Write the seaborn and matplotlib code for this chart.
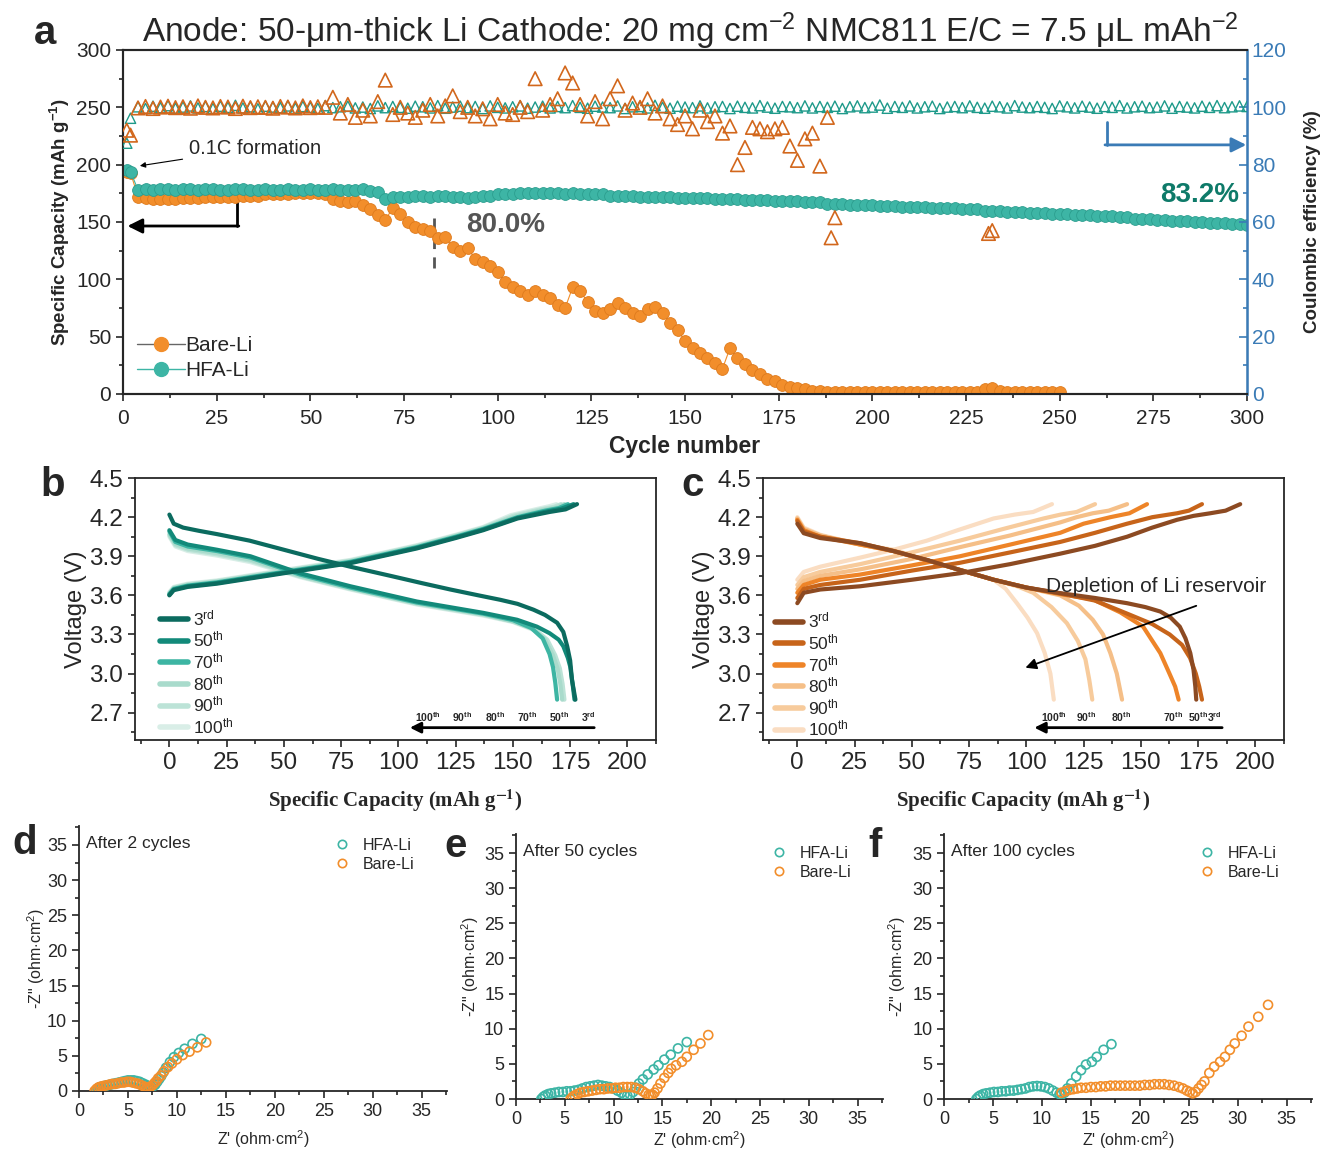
import numpy as np
import pandas as pd
import seaborn as sns
import matplotlib.pyplot as plt
from matplotlib.lines import Line2D
from matplotlib.ticker import MultipleLocator

sns.set_style("ticks")
plt.rcParams['font.family'] = ['Liberation Sans', 'DejaVu Sans']
plt.rcParams['mathtext.fontset'] = 'custom'
plt.rcParams['mathtext.rm'] = 'Liberation Sans'
plt.rcParams['mathtext.it'] = 'Liberation Sans:italic'
plt.rcParams['mathtext.bf'] = 'Liberation Sans:bold'

# ---------------- panel a : cycling data ----------------
cyc_hfa = [1, 2] + list(range(4, 301, 2))
cyc_bare = [1, 2] + list(range(4, 251, 2))
cyc_bare_ce = [1, 2] + list(range(4, 191, 2))
cyc_bare_ce_extra = [189, 231, 232]

cap_bare = [194, 193,
            172, 171, 170, 170, 170, 170, 171, 171, 171, 172,
            172, 172, 172, 172, 173, 173, 173, 174, 174, 174,
            174, 175, 175, 175, 175, 174, 170, 168, 167, 168,
            165, 161, 156, 152, 162, 157, 150, 146, 144, 142,
            136, 137, 128, 125, 127, 118, 115, 112, 106, 98,
            93, 90, 86, 90, 86, 84, 78, 75, 93, 90,
            80, 72, 71, 74, 79, 75, 71, 68, 74, 76,
            71, 62, 56, 46, 40, 36, 31, 27, 22, 40,
            31, 26, 21, 17, 13, 11, 8, 6, 5, 4,
            3, 2.5, 2, 2, 2, 2, 2, 2, 2, 2,
            2, 2, 2, 2, 2, 2, 2, 2, 2, 2,
            2, 2, 2, 4, 5, 3, 2, 2, 2, 2,
            2, 2, 2, 2]

cap_hfa = [195, 194,
           178, 179, 178, 179, 179, 178, 179, 179, 178, 179, 179, 178, 178, 179, 179, 178,
           178, 179, 178, 178, 179, 178, 178, 179, 178, 178, 179, 178, 178, 178, 179, 177,
           176, 170, 172, 172, 172, 173, 173, 172, 173, 173, 172, 172, 171, 172, 173, 173, 174,
           174, 174, 175, 175, 175, 175, 175, 175, 174, 175, 174, 174, 174, 174, 173,
           173, 173, 173, 172, 172, 172, 172, 172, 171, 171, 171, 171, 171, 170, 170,
           170, 170, 169, 169, 169, 169, 168, 168, 168, 168, 167, 167, 167, 166, 166, 166, 165, 165, 165, 165,
           164, 164, 164, 163, 163, 163, 163, 162, 162, 162, 162, 161, 161, 161, 160, 160, 160, 159, 159, 159,
           158, 158, 158, 157, 157,
           157, 156, 156, 156, 155, 155, 155, 154, 154, 153, 153, 153, 152, 152, 151, 151, 151, 150, 150, 149,
           149, 149, 148, 148, 147]

ce_hfa = [87.5, 96.2,
          100.2, 99.6, 100.4, 99.9, 100.6, 99.7, 100.1, 100.5, 99.8, 100.3,
          99.6, 100.4, 100.0, 100.7, 99.8, 100.2, 99.5, 100.4, 100.1, 99.9,
          100.5, 99.7, 100.3, 100.0, 99.6, 100.6, 99.9, 100.2, 100.4, 99.8,
          100.1, 99.6, 100.5, 99.9, 100.3, 100.0, 99.7, 100.4, 100.2, 99.8,
          100.6, 99.7, 100.1, 100.4, 99.9, 100.3, 99.6, 100.5, 100.0, 99.8,
          100.2, 100.5, 99.7, 100.1, 100.4, 99.8, 100.3, 99.9, 100.6, 100.0,
          99.7, 100.4, 100.1, 99.9, 100.5, 99.6, 100.2, 100.3, 99.8, 100.7,
          100.0, 99.7, 100.4, 100.1, 99.9, 100.5, 99.8, 100.2, 100.3, 99.6,
          100.4, 100.0, 99.8, 100.6, 100.1, 99.7, 100.3, 100.2, 99.9, 100.5,
          99.8, 100.3, 100.0, 100.4, 99.6, 100.2, 100.5, 99.9, 100.1, 100.8,
          99.7, 100.3, 100.0, 100.5, 99.8, 100.2, 100.4, 99.6, 100.1, 100.3,
          99.9, 100.5, 100.0, 99.7, 100.4, 100.2, 99.8, 100.6, 100.1, 99.9,
          100.3, 100.0, 99.6, 100.5, 100.2, 99.8, 100.4, 100.1, 99.7, 100.3,
          100.0, 100.6, 99.8, 100.2, 100.4, 99.9, 100.1, 100.5, 99.7, 100.3,
          100.1, 99.8, 100.4, 100.0, 100.6, 99.9, 100.2, 100.5, 100.3]

ce_bare = [92.0, 90.3,
           99.8, 100.3, 99.6, 100.1, 100.4, 99.9, 100.2, 99.7, 100.5, 100.0,
           99.8, 100.3, 100.1, 99.6, 100.4, 99.9, 100.2, 100.0, 99.7, 100.3,
           100.1, 99.8, 100.5, 99.9, 100.2, 100.0,
           103.5, 98.0, 101.0, 96.5, 99.0, 97.0, 102.0, 109.5, 97.5, 100.0,
           98.0, 96.5, 99.0, 101.0, 97.0, 100.5, 104.0, 98.5, 100.0, 97.0,
           99.5, 96.0, 101.0, 98.0, 97.5, 100.0, 98.5, 110.0, 99.0, 101.0,
           103.0, 112.0, 108.5, 101.0, 97.0, 102.0, 96.0, 103.0, 107.5, 99.0,
           101.5, 100.0, 103.0, 98.0, 100.5, 96.0, 94.0, 97.0, 92.5, 99.0,
           95.0, 97.0, 91.0, 93.5, 80.0, 86.0, 93.0, 92.5, 91.5, 92.5,
           93.0, 86.5, 81.5, 89.0, 91.0, 79.5, 96.5, 61.5]
ce_bare_extra = [54.5, 56.0, 57.0]

# ---------------- panel b : HFA-Li voltage profiles ----------------
cycle_labels = ['3$^{\\mathrm{rd}}$', '50$^{\\mathrm{th}}$', '70$^{\\mathrm{th}}$',
                '80$^{\\mathrm{th}}$', '90$^{\\mathrm{th}}$', '100$^{\\mathrm{th}}$']
b_colors = ['#0B6B5F', '#128A7A', '#3DB5A3', '#A9DBCC', '#BCE3D7', '#D9EEE7']
c_colors = ['#8C4A22', '#C7641A', '#EE8428', '#F5BF88', '#F7CB9C', '#FADDC2']

b_dis_cap = [
    [0, 1.9, 6, 13, 20.8, 35, 50, 65, 79, 96.5, 110, 122.7, 135, 144.5, 152, 159, 164, 169.3, 172, 173.7, 175, 175.8, 177.3],
    [0, 2.6, 8, 20.8, 35.4, 57, 79, 108, 137, 151.8, 160.5, 166, 170, 172, 174, 175, 176, 176.9],
    [0, 2.6, 8, 20.8, 35.4, 57, 79, 108, 137, 150, 158, 163, 166, 167.5, 168.5, 169.3],
    [0, 2.6, 8, 20.8, 35.4, 57, 79, 108, 137, 150, 159, 164, 167.5, 169.5, 170.7, 171.5],
    [0, 2.6, 8, 20.8, 35.4, 57, 79, 108, 137, 150, 159.5, 165, 168.5, 170.5, 171.7, 172.5],
    [0, 2.6, 8, 20.8, 35.4, 57, 79, 108, 137, 150, 159, 164.5, 168, 170, 171.2, 172]]
b_dis_v = [
    [4.22, 4.15, 4.12, 4.095, 4.07, 4.02, 3.95, 3.88, 3.82, 3.75, 3.695, 3.645, 3.60, 3.566, 3.535, 3.49, 3.45, 3.39, 3.32, 3.21, 3.10, 2.95, 2.80],
    [4.10, 4.025, 3.99, 3.95, 3.90, 3.77, 3.67, 3.553, 3.466, 3.413, 3.36, 3.31, 3.26, 3.21, 3.12, 3.055, 2.93, 2.80],
    [4.09, 4.01, 3.975, 3.94, 3.89, 3.76, 3.66, 3.545, 3.46, 3.41, 3.35, 3.27, 3.15, 3.05, 2.93, 2.80],
    [4.07, 3.995, 3.96, 3.925, 3.875, 3.75, 3.655, 3.54, 3.455, 3.40, 3.34, 3.26, 3.14, 3.04, 2.92, 2.80],
    [4.06, 3.985, 3.95, 3.915, 3.865, 3.745, 3.65, 3.535, 3.45, 3.40, 3.34, 3.26, 3.14, 3.04, 2.92, 2.80],
    [4.05, 3.975, 3.94, 3.905, 3.855, 3.74, 3.645, 3.53, 3.445, 3.395, 3.335, 3.255, 3.135, 3.035, 2.915, 2.80]]
b_ch_cap = [
    [0, 1.9, 8, 20.8, 50, 79, 108, 125, 137, 152, 166, 173, 178],
    [0, 1.9, 8, 20.8, 50, 79, 108, 125, 137, 152, 165, 171, 176.5],
    [0, 1.9, 8, 20.8, 50, 79, 108, 125, 137, 152, 164, 170, 174],
    [0, 1.9, 8, 20.8, 50, 79, 108, 125, 137, 151, 163, 169, 172.5],
    [0, 1.9, 8, 20.8, 50, 79, 108, 125, 137, 150, 162, 168, 171],
    [0, 1.9, 8, 20.8, 50, 79, 108, 125, 137, 149, 161, 166, 169]]
b_ch_v = [
    [3.60, 3.64, 3.665, 3.69, 3.77, 3.847, 3.96, 4.04, 4.10, 4.19, 4.24, 4.26, 4.30],
    [3.605, 3.645, 3.67, 3.695, 3.775, 3.852, 3.965, 4.045, 4.105, 4.195, 4.245, 4.265, 4.30],
    [3.61, 3.65, 3.675, 3.70, 3.78, 3.857, 3.97, 4.05, 4.11, 4.20, 4.25, 4.27, 4.30],
    [3.615, 3.655, 3.68, 3.705, 3.785, 3.862, 3.975, 4.055, 4.115, 4.205, 4.255, 4.275, 4.30],
    [3.62, 3.66, 3.685, 3.71, 3.79, 3.867, 3.98, 4.06, 4.12, 4.21, 4.26, 4.28, 4.30],
    [3.625, 3.665, 3.69, 3.715, 3.795, 3.872, 3.985, 4.065, 4.125, 4.215, 4.265, 4.285, 4.30]]

# ---------------- panel c : Bare-Li voltage profiles ----------------
c_dis_cap = [
    [0, 2.8, 10, 27.5, 42, 56.6, 70, 85.7, 100, 114.8, 130, 144, 152, 158.5, 163, 167, 169.5, 171.6, 173, 173.8, 174.2],
    [0, 2.8, 10, 27.5, 42, 56.6, 70, 85.7, 100, 114.8, 130, 144, 155, 162.6, 168, 171.5, 174, 175.5, 176.7],
    [0, 2.8, 10, 27.5, 42, 56.6, 70, 85.7, 100, 114.8, 129, 141, 151, 158.5, 162.5, 165, 166.5],
    [0, 2.8, 10, 27.5, 42, 56.6, 70, 85.7, 100, 114.8, 123, 129, 133.5, 136.7, 139.5, 141.8],
    [0, 2.8, 10, 27.5, 42, 56.6, 70, 85.7, 96, 103, 111, 117.7, 122.5, 125.8, 127.5, 128.8],
    [0, 2.8, 10, 27.5, 42, 56.6, 70, 80, 85.7, 91, 95.9, 100.5, 104.7, 108, 110.5, 112]]
c_dis_v = [
    [4.15, 4.077, 4.04, 4.0, 3.94, 3.872, 3.80, 3.72, 3.66, 3.617, 3.58, 3.54, 3.51, 3.476, 3.43, 3.36, 3.27, 3.157, 3.03, 2.90, 2.80],
    [4.17, 4.09, 4.05, 4.0, 3.94, 3.87, 3.80, 3.72, 3.66, 3.615, 3.56, 3.46, 3.38, 3.30, 3.22, 3.12, 3.0, 2.90, 2.80],
    [4.18, 4.10, 4.05, 3.99, 3.94, 3.87, 3.80, 3.72, 3.66, 3.61, 3.57, 3.47, 3.36, 3.157, 3.0, 2.90, 2.80],
    [4.19, 4.11, 4.06, 3.99, 3.94, 3.87, 3.80, 3.72, 3.66, 3.60, 3.52, 3.413, 3.30, 3.157, 3.0, 2.80],
    [4.19, 4.11, 4.06, 3.99, 3.945, 3.87, 3.80, 3.72, 3.67, 3.62, 3.51, 3.387, 3.25, 3.11, 2.95, 2.80],
    [4.20, 4.12, 4.065, 3.99, 3.95, 3.87, 3.80, 3.75, 3.72, 3.65, 3.54, 3.43, 3.31, 3.16, 3.0, 2.80]]
c_ch_cap = [
    [0, 2.8, 10, 27.5, 50, 71, 93, 114.8, 130, 144, 155, 165.8, 173, 180.3, 187, 193.4],
    [0, 2.8, 10, 27.5, 50, 71, 93, 114.8, 130, 144, 155, 165.8, 171, 176.7],
    [0, 2.8, 10, 27.5, 50, 71, 93, 114.8, 125, 136.7, 145, 152.7],
    [0, 2.8, 10, 27.5, 50, 71, 93, 114.8, 122, 129, 136, 144],
    [0, 2.8, 10, 27.5, 50, 71, 90, 107.5, 115, 122, 130],
    [0, 2.8, 10, 27.5, 42, 56.6, 70, 85.7, 95, 103, 111.2]]
c_ch_v = [
    [3.54, 3.62, 3.645, 3.67, 3.72, 3.77, 3.84, 3.92, 3.98, 4.05, 4.12, 4.18, 4.21, 4.23, 4.25, 4.30],
    [3.58, 3.65, 3.68, 3.72, 3.79, 3.85, 3.93, 4.01, 4.08, 4.15, 4.20, 4.23, 4.25, 4.30],
    [3.62, 3.68, 3.72, 3.76, 3.83, 3.90, 3.99, 4.08, 4.15, 4.20, 4.23, 4.30],
    [3.65, 3.71, 3.75, 3.80, 3.88, 3.97, 4.06, 4.16, 4.20, 4.23, 4.25, 4.30],
    [3.68, 3.74, 3.78, 3.84, 3.93, 4.02, 4.11, 4.19, 4.22, 4.24, 4.30],
    [3.72, 3.78, 3.82, 3.89, 3.95, 4.02, 4.10, 4.19, 4.22, 4.24, 4.30]]

# ---------------- panels d-f : EIS ----------------
d_hfa_re = [1.7, 1.9, 2.1, 2.3, 2.6, 2.9, 3.2, 3.5, 3.8, 4.1, 4.4, 4.7, 5.0, 5.3, 5.6, 5.9, 6.2, 6.5, 6.8, 7.0,
            7.2, 7.4, 7.6, 7.8, 8.0, 8.2, 8.4, 8.6, 8.9, 9.3, 9.7, 10.2, 10.8, 11.6, 12.5]
d_hfa_im = [0.0, 0.3, 0.5, 0.6, 0.7, 0.8, 0.9, 1.0, 1.1, 1.2, 1.3, 1.4, 1.5, 1.5, 1.5, 1.4, 1.3, 1.1, 0.9, 0.7,
            0.6, 0.6, 0.7, 0.9, 1.3, 1.7, 2.1, 2.6, 3.3, 4.1, 4.8, 5.4, 6.0, 6.7, 7.4]
d_bare_re = [1.6, 1.8, 2.0, 2.2, 2.5, 2.8, 3.1, 3.4, 3.7, 4.0, 4.3, 4.6, 4.9, 5.2, 5.5, 5.8, 6.1, 6.4, 6.7, 6.9,
             7.1, 7.3, 7.5, 7.7, 7.9, 8.1, 8.4, 8.7, 9.1, 9.5, 10.0, 10.6, 11.3, 12.1, 13.0]
d_bare_im = [0.0, 0.3, 0.5, 0.6, 0.7, 0.8, 0.9, 1.0, 1.0, 1.1, 1.2, 1.2, 1.3, 1.3, 1.2, 1.1, 1.0, 0.8, 0.6, 0.5,
             0.5, 0.6, 0.8, 1.1, 1.4, 1.8, 2.2, 2.8, 3.4, 3.9, 4.5, 5.1, 5.6, 6.2, 6.9]
e_hfa_re = [2.6, 2.8, 3.0, 3.3, 3.6, 4.0, 4.4, 4.8, 5.2, 5.6, 6.0, 6.4, 6.8, 7.2, 7.6, 8.0, 8.4, 8.8, 9.2, 9.6,
            10.0, 10.4, 10.8, 11.1, 11.4, 11.7, 12.0, 12.3, 12.6, 13.0, 13.5, 14.1, 14.6, 15.2, 15.85, 16.6, 17.5]
e_hfa_im = [0.0, 0.3, 0.5, 0.7, 0.8, 0.9, 1.0, 1.0, 1.1, 1.1, 1.2, 1.3, 1.5, 1.7, 1.8, 1.9, 2.0, 1.9, 1.8, 1.7,
            1.5, 1.2, 0.9, 0.6, 0.5, 0.6, 1.0, 1.6, 2.2, 2.8, 3.5, 4.2, 4.8, 5.6, 6.3, 7.2, 8.1]
e_bare_re = [5.6, 5.8, 6.0, 6.3, 6.6, 7.0, 7.4, 7.8, 8.2, 8.6, 9.0, 9.4, 9.8, 10.2, 10.6, 11.0, 11.4, 11.8, 12.2, 12.6,
             13.0, 13.3, 13.6, 13.8, 14.0, 14.2, 14.5, 14.8, 15.2, 15.6, 15.9, 16.4, 17.0, 17.5, 18.2, 18.9, 19.7]
e_bare_im = [0.0, 0.3, 0.5, 0.7, 0.9, 1.0, 1.1, 1.2, 1.3, 1.4, 1.4, 1.5, 1.5, 1.6, 1.6, 1.7, 1.7, 1.7, 1.6, 1.4,
             1.1, 0.8, 0.6, 0.5, 0.6, 0.9, 1.5, 2.2, 3.0, 3.7, 4.3, 4.8, 5.3, 6.0, 7.0, 7.9, 9.1]
f_hfa_re = [3.3, 3.5, 3.7, 4.0, 4.3, 4.7, 5.1, 5.5, 5.9, 6.3, 6.7, 7.1, 7.5, 7.9, 8.3, 8.7, 9.1, 9.5, 9.9, 10.3,
            10.7, 11.1, 11.5, 11.8, 12.0, 12.3, 12.6, 13.0, 13.5, 14.0, 14.5, 15.1, 15.6, 16.3, 17.1]
f_hfa_im = [0.0, 0.3, 0.5, 0.7, 0.8, 0.9, 1.0, 1.0, 1.1, 1.1, 1.2, 1.2, 1.3, 1.4, 1.5, 1.7, 1.8, 1.85, 1.8, 1.7,
            1.5, 1.2, 0.9, 0.7, 0.6, 0.9, 1.5, 2.2, 3.2, 4.1, 4.9, 5.3, 6.0, 7.0, 7.8]
f_bare_re = [12.0, 12.4, 12.8, 13.2, 13.6, 14.0, 14.5, 15.0, 15.5, 16.0, 16.5, 17.0, 17.5, 18.0, 18.5, 19.0, 19.5,
             20.0, 20.5, 21.0, 21.5, 22.0, 22.5, 23.0, 23.5, 24.0, 24.4, 24.8, 25.1, 25.4, 25.7, 26.0, 26.3, 26.6,
             27.1, 27.6, 28.2, 28.7, 29.2, 29.7, 30.4, 31.1, 32.1, 33.1]
f_bare_im = [0.9, 1.1, 1.3, 1.4, 1.5, 1.6, 1.6, 1.7, 1.7, 1.8, 1.8, 1.9, 1.9, 1.9, 1.9, 1.9, 1.9,
             1.9, 2.0, 2.0, 2.1, 2.1, 2.1, 2.0, 1.9, 1.7, 1.5, 1.2, 1.0, 0.8, 1.0, 1.5, 2.0, 2.5,
             3.7, 4.6, 5.3, 6.0, 7.0, 7.9, 9.0, 10.3, 11.7, 13.4]

ORANGE = '#F28E2B'
TEAL = '#3DB5A5'
BLUE = '#3A7BB6'

fig = plt.figure(figsize=(13.2, 11.52), dpi=100)

# ======================= panel a =======================
ax = fig.add_axes([0.0932, 0.6580, 0.8515, 0.2986])
ax2 = ax.twinx()

sns.lineplot(x=cyc_bare, y=cap_bare, ax=ax, color=ORANGE, lw=0.8, marker='o', ms=8.5,
             mec='#DE7A1C', mew=0.6, estimator=None, sort=False, zorder=3)
sns.lineplot(x=cyc_hfa, y=cap_hfa, ax=ax, color=TEAL, lw=0.8, marker='o', ms=8.5,
             mec='#2C9E8F', mew=0.6, estimator=None, sort=False, zorder=4)

sns.scatterplot(x=cyc_hfa, y=ce_hfa, ax=ax2, marker='^', s=55, facecolor='none',
                edgecolor='#1E9A8A', linewidth=1.0, zorder=3)
sns.scatterplot(x=cyc_bare_ce, y=ce_bare, ax=ax2, marker='^', s=95, facecolor='none',
                edgecolor='#D2671C', linewidth=1.2, zorder=4)
sns.scatterplot(x=cyc_bare_ce_extra, y=ce_bare_extra, ax=ax2, marker='^', s=95, facecolor='none',
                edgecolor='#D2671C', linewidth=1.2, zorder=4)

ax.set_xlim(0, 300)
ax.set_ylim(0, 300)
ax2.set_ylim(0, 120)
ax.xaxis.set_major_locator(MultipleLocator(25))
ax.xaxis.set_minor_locator(MultipleLocator(12.5))
ax.yaxis.set_major_locator(MultipleLocator(50))
ax.yaxis.set_minor_locator(MultipleLocator(25))
ax2.yaxis.set_major_locator(MultipleLocator(20))
ax2.yaxis.set_minor_locator(MultipleLocator(10))
ax.tick_params(which='both', direction='out', labelsize=15, width=1.2)
ax.tick_params(which='major', length=5)
ax.tick_params(which='minor', length=3)
ax.tick_params(axis='x', pad=6)
ax2.tick_params(which='both', direction='in', colors=BLUE, labelsize=15, width=1.2)
ax2.tick_params(which='major', length=6)
ax2.tick_params(which='minor', length=3)
for s in ['left', 'top', 'bottom']:
    ax.spines[s].set_linewidth(1.5)
    ax2.spines[s].set_linewidth(1.5)
ax2.spines['right'].set_color(BLUE)
ax2.spines['right'].set_linewidth(1.8)
ax.set_xlabel('Cycle number', fontsize=16.5, fontweight='bold', labelpad=5)
ax.set_ylabel(r'Specific Capacity (mAh g$^{\mathbf{-1}}$)', fontsize=13.5, fontweight='bold', labelpad=3)
ax2.set_ylabel('Coulombic efficiency (%)', fontsize=13.5, fontweight='bold', labelpad=12)

# arrows and notes
ax.plot([30.5, 30.5], [172, 146.5], color='k', lw=2)
ax.annotate('', xy=(1.2, 146.5), xytext=(30.9, 146.5),
            arrowprops=dict(arrowstyle='-|>', color='k', lw=2, mutation_scale=22, shrinkA=0, shrinkB=0))
ax2.plot([262.5, 262.5], [95, 86.9], color=BLUE, lw=2)
ax2.annotate('', xy=(299.8, 86.9), xytext=(262.1, 86.9),
             arrowprops=dict(arrowstyle='-|>', color=BLUE, lw=2, mutation_scale=22, shrinkA=0, shrinkB=0))
ax.annotate('0.1C formation', xy=(4.5, 199), xytext=(17.5, 214.5), fontsize=14.5, va='center',
            arrowprops=dict(arrowstyle='-|>', color='k', lw=0.8, mutation_scale=8, shrinkA=2, shrinkB=0))
ax.plot([83, 83], [110, 155], color='#555555', lw=2, ls=(0, (4, 3)))
ax.text(102, 147, '80.0%', fontsize=20, fontweight='bold', color='#555555', ha='center', va='center')
ax.text(298, 173.5, '83.2%', fontsize=20, fontweight='bold', color='#0E7A69', ha='right', va='center')

leg_a = [Line2D([], [], color='#666666', lw=1, marker='o', ms=10, mfc=ORANGE, mec=ORANGE),
         Line2D([], [], color=TEAL, lw=1, marker='o', ms=10, mfc=TEAL, mec=TEAL)]
ax.legend(leg_a, ['Bare-Li', 'HFA-Li'], loc='lower left', bbox_to_anchor=(-0.004, -0.015), frameon=False,
          fontsize=15, handlelength=2.3, handletextpad=0.0, labelspacing=0.3)


# ======================= panels b, c =======================
def voltage_panel(rect, dis_cap, dis_v, ch_cap, ch_v, colors, leg_anchor):
    axv = fig.add_axes(rect)
    for i in range(len(colors) - 1, -1, -1):
        sns.lineplot(x=ch_cap[i], y=ch_v[i], ax=axv, color=colors[i], lw=3, sort=False, estimator=None)
        sns.lineplot(x=dis_cap[i], y=dis_v[i], ax=axv, color=colors[i], lw=3, sort=False, estimator=None)
    axv.set_xlim(-15, 212.5)
    axv.set_ylim(2.49, 4.5)
    axv.xaxis.set_major_locator(MultipleLocator(25))
    axv.xaxis.set_minor_locator(MultipleLocator(12.5))
    axv.yaxis.set_major_locator(MultipleLocator(0.3))
    axv.yaxis.set_minor_locator(MultipleLocator(0.15))
    axv.yaxis.set_major_formatter(plt.FormatStrFormatter('%.1f'))
    axv.tick_params(which='both', direction='out', labelsize=17.5, width=1.2)
    axv.tick_params(which='major', length=5)
    axv.tick_params(which='minor', length=3)
    for s in axv.spines.values():
        s.set_linewidth(1.3)
    axv.set_xlabel(r'Specific Capacity (mAh g$^{\mathbf{-1}}$)', fontsize=15, fontweight='bold',
                   fontfamily='Liberation Serif', math_fontfamily='stix', labelpad=10)
    axv.set_ylabel('Voltage (V)', fontsize=17, labelpad=2)
    handles = [Line2D([], [], color=c, lw=4) for c in colors]
    axv.legend(handles, cycle_labels, loc='upper left', bbox_to_anchor=leg_anchor, frameon=False,
               fontsize=12.5, handlelength=1.6, handletextpad=0.3, labelspacing=0.1, borderaxespad=0)
    return axv


ax_b = voltage_panel([0.1023, 0.3576, 0.3947, 0.2274], b_dis_cap, b_dis_v, b_ch_cap, b_ch_v,
                     b_colors, (0.035, 0.53))
ax_c = voltage_panel([0.5780, 0.3576, 0.3947, 0.2274], c_dis_cap, c_dis_v, c_ch_cap, c_ch_v,
                     c_colors, (0.01, 0.52))

order_labels = ['100$^{\\mathbf{th}}$', '90$^{\\mathbf{th}}$', '80$^{\\mathbf{th}}$',
                '70$^{\\mathbf{th}}$', '50$^{\\mathbf{th}}$', '3$^{\\mathbf{rd}}$']
for axv, xs, x0, x1 in [(ax_b, [113, 128, 142, 156, 170, 183], 185.5, 105),
                        (ax_c, [112, 126, 141.5, 164, 175, 182], 185.5, 103.5)]:
    for lab, xx in zip(order_labels, xs):
        axv.text(xx, 2.665, lab, fontsize=7.5, fontweight='bold', ha='center', va='center')
    axv.annotate('', xy=(x1, 2.585), xytext=(x0, 2.585),
                 arrowprops=dict(arrowstyle='-|>', color='k', lw=2, mutation_scale=16, shrinkA=0, shrinkB=0))

ax_c.text(108.5, 3.665, 'Depletion of Li reservoir', fontsize=15, ha='left', va='center')
ax_c.annotate('', xy=(99.6, 3.045), xytext=(174.2, 3.52),
              arrowprops=dict(arrowstyle='-|>', color='k', lw=1.3, mutation_scale=16, shrinkA=0, shrinkB=0))


# ======================= panels d, e, f =======================
def eis_panel(rect, hre, him, bre, bim, title, ylab_x, xlab_y):
    axe = fig.add_axes(rect)
    sns.scatterplot(x=hre, y=him, ax=axe, marker='o', s=42, facecolor='none',
                    edgecolor=TEAL, linewidth=1.2, zorder=3)
    sns.scatterplot(x=bre, y=bim, ax=axe, marker='o', s=42, facecolor='none',
                    edgecolor=ORANGE, linewidth=1.2, zorder=3)
    axe.set_xlim(0, 37.6)
    axe.set_ylim(0, 37.7)
    for a in (axe.xaxis, axe.yaxis):
        a.set_major_locator(MultipleLocator(5))
        a.set_minor_locator(MultipleLocator(2.5))
    axe.tick_params(which='both', direction='out', labelsize=13, width=1.2)
    axe.tick_params(which='major', length=5)
    axe.tick_params(which='minor', length=3)
    sns.despine(ax=axe)
    for s in ['left', 'bottom']:
        axe.spines[s].set_linewidth(1.3)
    axe.set_xlabel("Z' (ohm$\\cdot$cm$^2$)", fontsize=11.5)
    axe.set_ylabel('-Z" (ohm$\\cdot$cm$^2$)', fontsize=11.5)
    axe.yaxis.set_label_coords(ylab_x, 0.5)
    axe.xaxis.set_label_coords(0.5, xlab_y)
    axe.text(0.02, 0.935, title, transform=axe.transAxes, fontsize=12.5, ha='left', va='center')
    handles = [Line2D([], [], ls='', marker='o', ms=6, mfc='none', mec=TEAL, mew=1.2),
               Line2D([], [], ls='', marker='o', ms=6, mfc='none', mec=ORANGE, mew=1.2)]
    axe.legend(handles, ['HFA-Li', 'Bare-Li'], loc='upper left', bbox_to_anchor=(0.655, 0.98), frameon=False,
               fontsize=11.5, handletextpad=0.3, labelspacing=0.25, borderaxespad=0)
    return axe


eis_panel([0.0598, 0.0530, 0.2788, 0.2300], d_hfa_re, d_hfa_im, d_bare_re, d_bare_im, 'After 2 cycles',
          -0.086, -0.14)
eis_panel([0.3909, 0.0460, 0.2780, 0.2300], e_hfa_re, e_hfa_im, e_bare_re, e_bare_im, 'After 50 cycles',
          -0.095, -0.115)
eis_panel([0.7152, 0.0460, 0.2788, 0.2300], f_hfa_re, f_hfa_im, f_bare_re, f_bare_im, 'After 100 cycles',
          -0.097, -0.115)

# ======================= title and panel letters =======================
fig.text(0.523, 0.973, 'Anode: 50-μm-thick Li Cathode: 20 mg cm$^{-2}$ NMC811 E/C = 7.5 μL mAh$^{-2}$',
         fontsize=24, ha='center', va='center')
for lab, x, y in [('a', 0.034, 0.971), ('b', 0.040, 0.579), ('c', 0.525, 0.579),
                  ('d', 0.019, 0.268), ('e', 0.345, 0.266), ('f', 0.663, 0.266)]:
    fig.text(x, y, lab, fontsize=29, fontweight='bold', ha='center', va='center')

fig.savefig('out.png', dpi=100)
